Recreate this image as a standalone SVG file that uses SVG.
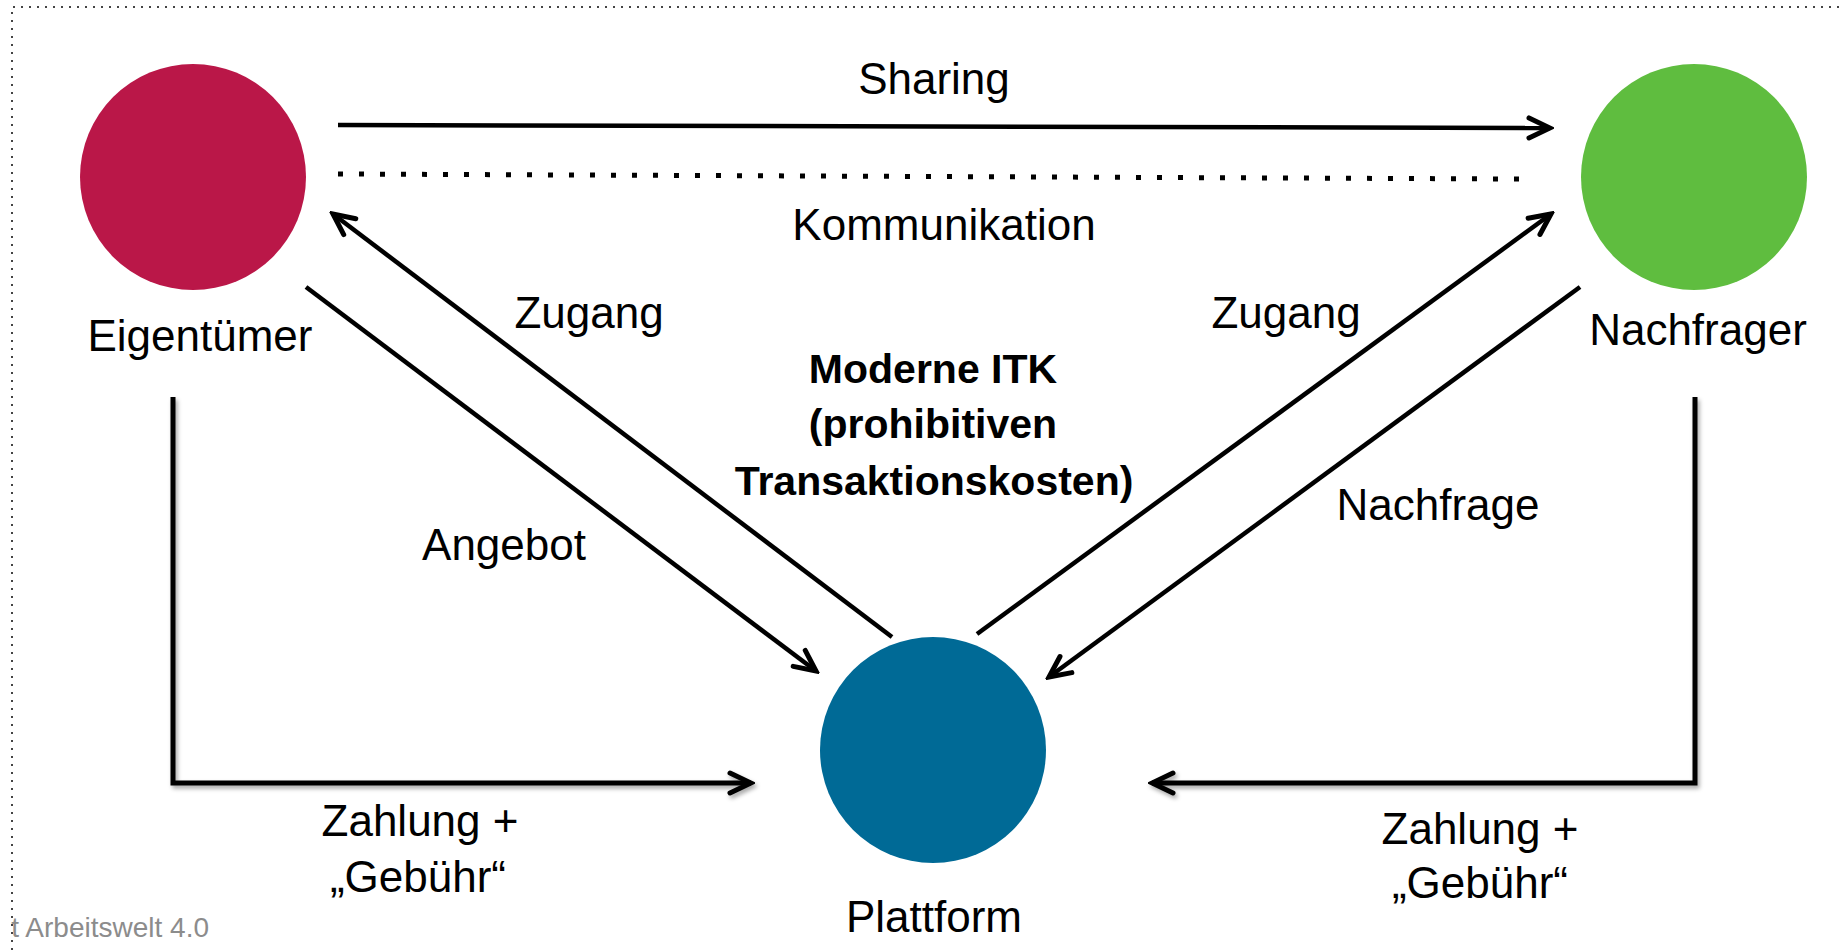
<svg xmlns="http://www.w3.org/2000/svg" width="1843" height="950" viewBox="0 0 1843 950">
  <style>
    text { font-family: "Liberation Sans", Arial, sans-serif; fill: #000; }
    .lbl { font-size: 44px; text-anchor: middle; }
    .bold { font-size: 41px; font-weight: bold; text-anchor: middle; }
    .foot { font-size: 28px; fill: #8c8c8c; text-anchor: end; }
    .conn { fill: none; stroke: #000; stroke-width: 4.5; }
    .elbow { fill: none; stroke: #000; stroke-width: 5; stroke-linejoin: miter; filter: url(#shadow); }
    .dots { fill: none; stroke: #000; stroke-width: 5; stroke-dasharray: 5 16; }
    .frame { fill: none; stroke: #444; stroke-width: 2; stroke-dasharray: 2 6; }
  </style>
  <defs>
    <marker id="arrow" markerUnits="userSpaceOnUse" viewBox="-26 -14 30 28" markerWidth="30" markerHeight="28" refX="0" refY="0" orient="auto">
      <path d="M -21 -10 L 0 0 L -21 10" fill="none" stroke="#000" stroke-width="5" stroke-linecap="round" stroke-linejoin="miter"/>
    </marker>
    <filter id="shadow" x="-10%" y="-10%" width="120%" height="130%">
      <feDropShadow dx="2" dy="3" stdDeviation="2" flood-color="#000" flood-opacity="0.35"/>
    </filter>
  </defs>

  <rect width="1843" height="950" fill="#fff"/>
  <!-- dotted frame -->
  <path class="frame" d="M 12 950 L 12 7 L 1843 7"/>

  <g id="connectors">
    <path id="sharing" class="conn" d="M 338 125 L 1550 128" marker-end="url(#arrow)"/>
    <path id="kommunikation" class="dots" d="M 338 174 L 1519 179"/>
    <path id="zugang-left" class="conn" d="M 892 637 L 333 214" marker-end="url(#arrow)"/>
    <path id="angebot" class="conn" d="M 306 287 L 816 671" marker-end="url(#arrow)"/>
    <path id="zugang-right" class="conn" d="M 977 634 L 1551 214" marker-end="url(#arrow)"/>
    <path id="nachfrage" class="conn" d="M 1580 287 L 1049 677" marker-end="url(#arrow)"/>
    <path id="zahlung-left" class="elbow" d="M 173 397 L 173 783 L 751 783" marker-end="url(#arrow)"/>
    <path id="zahlung-right" class="elbow" d="M 1695 397 L 1695 783 L 1152 783" marker-end="url(#arrow)"/>
  </g>

  <g id="connector-labels">
    <text class="lbl" x="934" y="94">Sharing</text>
    <text class="lbl" x="944" y="240">Kommunikation</text>
    <text class="lbl" x="589" y="328">Zugang</text>
    <text class="lbl" x="1286" y="328">Zugang</text>
    <text class="lbl" x="504" y="560">Angebot</text>
    <text class="lbl" x="1438" y="520">Nachfrage</text>
    <text class="lbl" x="420" y="836">Zahlung +</text>
    <text class="lbl" x="418" y="892">„Gebühr“</text>
    <text class="lbl" x="1480" y="844">Zahlung +</text>
    <text class="lbl" x="1480" y="898">„Gebühr“</text>
  </g>

  <g id="itk-label">
    <text class="bold" x="933" y="383">Moderne ITK</text>
    <text class="bold" x="933" y="438">(prohibitiven</text>
    <text class="bold" x="934" y="495">Transaktionskosten)</text>
  </g>

  <g id="node-eigentuemer">
    <circle cx="193" cy="177" r="113" fill="#BA1748"/>
    <text class="lbl" x="200" y="351">Eigentümer</text>
  </g>
  <g id="node-nachfrager">
    <circle cx="1694" cy="177" r="113" fill="#5FBD3F"/>
    <text class="lbl" x="1698" y="345">Nachfrager</text>
  </g>
  <g id="node-plattform">
    <circle cx="933" cy="750" r="113" fill="#006A96"/>
    <text class="lbl" x="934" y="932">Plattform</text>
  </g>

  <text class="foot" x="209" y="937">t Arbeitswelt 4.0</text>
</svg>
